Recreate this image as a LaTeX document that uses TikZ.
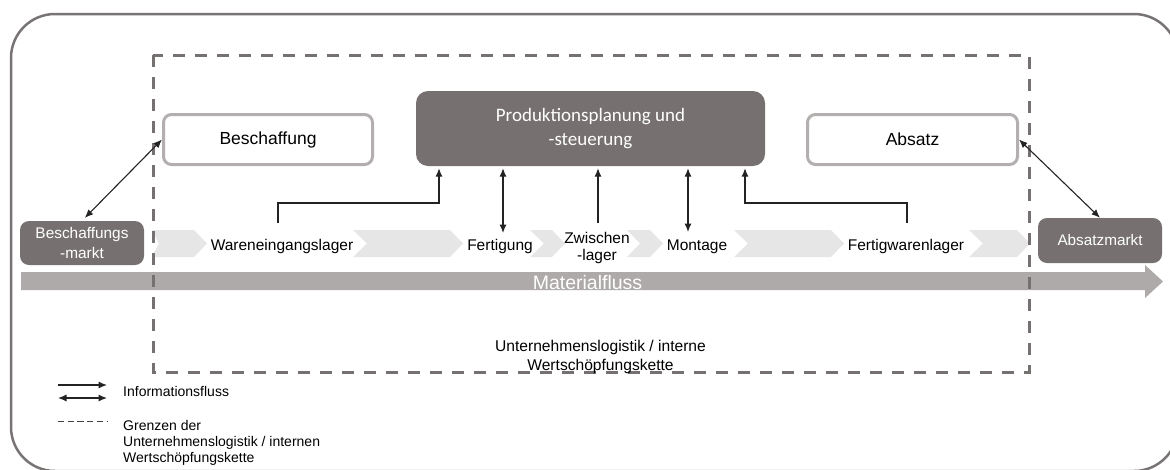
\documentclass[tikz,border=0pt]{standalone}
\usepackage{fontspec}
\setmainfont{Liberation Sans}
\newfontfamily\ppsfont{Carlito}
\usetikzlibrary{arrows.meta}

\definecolor{boxdark}{RGB}{118,113,112}
\definecolor{boxline}{RGB}{178,175,174}
\definecolor{chevgray}{RGB}{230,230,230}
\definecolor{flowgray}{RGB}{174,170,169}
\definecolor{boundgray}{RGB}{118,113,113}
\definecolor{framegray}{RGB}{120,116,116}
\definecolor{conncol}{RGB}{35,35,35}

\tikzset{
  darkbox/.style={fill=boxdark, draw=none, rounded corners=9pt, text=white,
    align=center, inner sep=0pt},
  lightbox/.style={draw=boxline, line width=3pt, fill=white, rounded corners=8pt,
    inner sep=0pt, font=\fontsize{17.5}{20}\selectfont},
  lbl/.style={font=\fontsize{15.5}{17.5}\selectfont, inner sep=1pt, align=center},
  conn/.style={draw=conncol, line width=1.1pt},
  info/.style={conn, -{Latex[length=8.5pt,width=7pt]}},
  infoboth/.style={conn, {Latex[length=8.5pt,width=7pt]}-{Latex[length=8.5pt,width=7pt]}},
  chevfill/.style={fill=chevgray},
  boundary/.style={draw=boundgray, line width=3pt, dash pattern=on 12pt off 10pt},
  legendtext/.style={font=\fontsize{14}{16}\selectfont, inner sep=0pt, align=left},
}

% process chevron: left edge, end of flat top, depth of the notch
\newcommand\chevshape[3]{%
  \fill[chevfill] (#1,230) -- (#2,230) -- ++(13,13.5) -- (#2,257) -- (#1,257)
    -- ++(#3,-13.5) -- cycle;}

\begin{document}
\begin{tikzpicture}[x=1pt, y=-1pt]
\useasboundingbox (0,0) rectangle (1170,469);
\clip (0,0) rectangle (1170,469);

% outer frame
\draw[framegray, line width=2.5pt, rounded corners=44pt] (11,14) rectangle (1178,471);

% chevrons of the material chain
\chevshape{152}{194}{7}
\chevshape{353}{450}{14}
\chevshape{530}{552}{14}
\chevshape{627}{650}{13}
\chevshape{734}{831}{14}
\chevshape{969}{1017}{14}

% material flow arrow
\fill[flowgray] (21,272) -- (1145,272) -- (1145,265) -- (1163,281.5) -- (1145,298)
  -- (1145,290) -- (21,290) -- cycle;
\node[font=\fontsize{19.5}{22}\selectfont, text=white, anchor=base, inner sep=0pt]
  (mf) at (587.5,289) {Materialfluss};

% boundary of the internal value chain
\draw[boundary] (153,55) rectangle (1029,372);

% markets
\node[darkbox, minimum width=124pt, minimum height=44pt,
  font=\fontsize{15.4}{20}\selectfont] (bm) at (82,243) {Beschaffungs\\-markt};
\node[darkbox, minimum width=124pt, minimum height=45pt,
  font=\fontsize{15.3}{18}\selectfont] (am) at (1100,240.5) {Absatzmarkt};

% functions
\node[darkbox, rounded corners=12pt, minimum width=349pt, minimum height=75pt,
  font=\ppsfont\fontsize{19}{23.5}\selectfont] (pps) at (590.5,128.5)
  {Produktionsplanung und\\-steuerung};
\node[lightbox, minimum width=209pt, minimum height=50pt] (bes) at (268,139.5) {Beschaffung};
\node[lightbox, minimum width=210pt, minimum height=50pt] (abs) at (912.5,139.5) {Absatz};

% stations of the chain
\node[lbl, anchor=base] (wel) at (282,250) {Wareneingangslager};
\node[lbl, anchor=base] (fert) at (500,250) {Fertigung};
\node[lbl] (zw) at (597,248) {Zwischen\\-lager};
\node[lbl, anchor=base] (mont) at (697,250) {Montage};
\node[lbl, anchor=base] (fwl) at (906,250) {Fertigwarenlager};

\node[lbl, font=\fontsize{15.6}{18.5}\selectfont] (ul) at (600.5,356.8)
  {Unternehmenslogistik / interne\\Wertschöpfungskette};

% information flows
\draw[infoboth, shorten <=4pt] (bm.north) -- (bes.west);
\draw[infoboth] (abs.east) -- (am.north);

\coordinate (wa) at (278,223);
\coordinate (wb) at (439,203);
\draw[info, shorten >=2pt] (wa) |- (wb) -- (wb |- pps.south);

\coordinate (fa) at (503,233);
\draw[infoboth, shorten <=2pt] (fa |- pps.south) -- (fa);

\coordinate (za) at (598,223);
\draw[info, shorten >=2pt] (za) -- (za |- pps.south);

\coordinate (ma) at (688,232);
\draw[infoboth, shorten <=2pt] (ma |- pps.south) -- (ma);

\coordinate (fwa) at (907,223);
\coordinate (fwb) at (745,203);
\draw[info, shorten >=2pt] (fwa) |- (fwb) -- (fwb |- pps.south);

% legend
\coordinate (la1) at (58,385);
\coordinate (lb1) at (107,385);
\draw[info] (la1) -- (lb1);
\coordinate (la2) at (58,398);
\coordinate (lb2) at (107,398);
\draw[infoboth] (la2) -- (lb2);
\coordinate (la3) at (58,421);
\coordinate (lb3) at (107,421);
\draw[draw=conncol!85!white, line width=0.9pt, dash pattern=on 6.3pt off 3.4pt] (la3) -- (lb3);

\node[legendtext, anchor=base west] (lt1) at (123,396.7) {Informationsfluss};
\node[legendtext, anchor=north west] (lt2) at (123,420.5)
  {Grenzen der\\Unternehmenslogistik / internen\\Wertschöpfungskette};
\end{tikzpicture}
\end{document}
